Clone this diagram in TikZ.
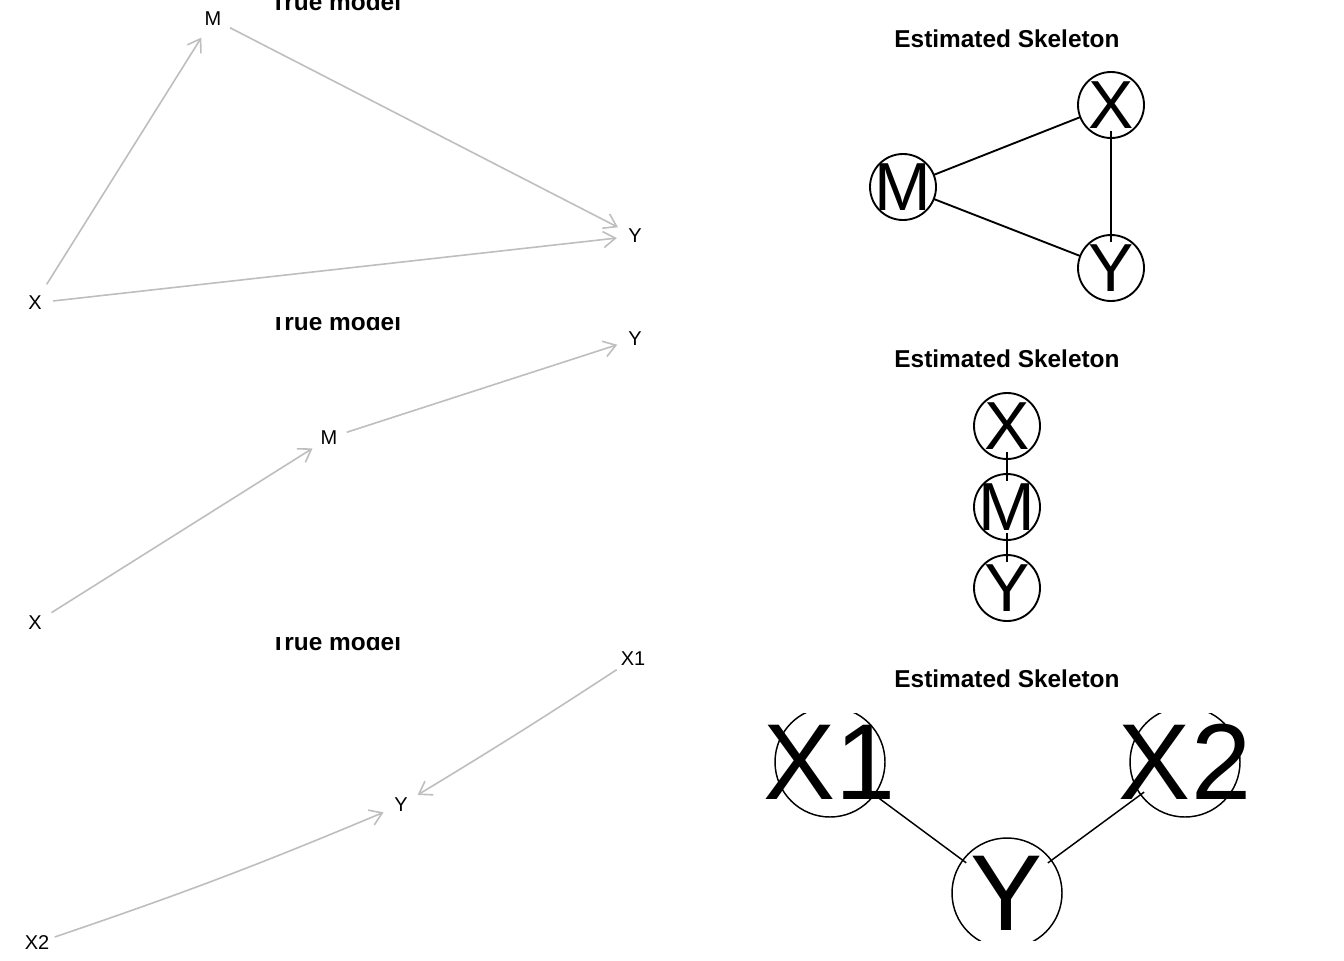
\documentclass[tikz,border=0pt]{standalone}
\usepackage{fontspec}
\setmainfont{Liberation Sans}
\usetikzlibrary{positioning,shapes.geometric,arrows.meta}
\definecolor{edgegray}{RGB}{190,190,190}

\begin{document}
\begin{tikzpicture}[
    x=0.75pt, y=-0.75pt,
    var/.style={ellipse, inner sep=0pt, minimum width=27pt, minimum height=36pt, font=\fontsize{15}{15}\selectfont},
    causal/.style={draw=edgegray, line width=1.2pt, -{Straight Barb[length=9pt,width=12pt]}},
    ttl/.style={anchor=base, font=\bfseries\fontsize{18.3}{18.3}\selectfont},
    skel/.style={circle, draw, line width=1.4pt, inner sep=0pt, minimum size=49.5pt,
        label={[font=\fontsize{51}{51}\selectfont, inner sep=0pt]center:#1}},
    bigskel/.style={circle, draw, line width=1.1pt, inner sep=0pt, minimum size=82.5pt,
        label={[font=\fontsize{81}{81}\selectfont, inner sep=0pt]center:#1}},
    skedge/.style={draw, line width=1.4pt}
]
\useasboundingbox (0,0) rectangle (1344,960);

% true model, first row
\begin{scope}
\clip (0,-2.5) rectangle (672,320);
\node[ttl] (true1) at (336,10) {True model};
\end{scope}
\node[var] (m1) at (213,19) {M};
\node[var] (x1) at (35,303) {X};
\node[var] (y1) at (635,236) {Y};
\draw[causal] (x1) -- (m1);
\draw[causal] (m1) -- (y1);
\draw[causal] (x1) -- (y1);

% true model, second row
\begin{scope}
\clip (0,317.5) rectangle (672,640);
\node[ttl] (true2) at (336,330) {True model};
\end{scope}
\node[var] (y2) at (635,339) {Y};
\node[var] (m2) at (329,438) {M};
\node[var] (x2) at (35,623) {X};
\draw[causal] (x2) -- (m2);
\draw[causal] (m2) -- (y2);

% true model, third row
\begin{scope}
\clip (0,637.5) rectangle (672,960);
\node[ttl] (true3) at (336,650) {True model};
\end{scope}
\node[var] (xa3) at (633,659) {X1};
\node[var] (y3) at (401,805) {Y};
\node[var] (xb3) at (37,943) {X2};
\draw[causal] (xa3) to[bend left=1] (y3);
\draw[causal] (xb3) to[bend right=2] (y3);

% estimated skeletons
\node[ttl] (est1) at (1007,47) {Estimated Skeleton};
\node[skel=X] (sx1) at (1111,105) {};
\node[skel=M] (sm1) at (903,187) {};
\node[skel=Y] (sy1) at (1111,268) {};
\draw[skedge, shorten <=-1pt, shorten >=-1pt] (sm1) -- (sx1);
\draw[skedge, shorten <=-1pt, shorten >=-1pt] (sm1) -- (sy1);
\draw[skedge, shorten <=-5.6pt, shorten >=-5.6pt] (sx1) -- (sy1);

\node[ttl] (est2) at (1007,367) {Estimated Skeleton};
\node[skel=X] (sx2) at (1007,426) {};
\node[skel=M] (sm2) at (1007,507) {};
\node[skel=Y] (sy2) at (1007,588) {};
\draw[skedge, shorten <=-5.6pt, shorten >=-5.6pt] (sx2) -- (sm2);
\draw[skedge, shorten <=-5.6pt, shorten >=-5.6pt] (sm2) -- (sy2);

\node[ttl] (est3) at (1007,687) {Estimated Skeleton};
\begin{scope}
\clip (700,713) rectangle (1344,940);
\node[bigskel=X1] (sa3) at (830,762) {};
\node[bigskel=X2] (sb3) at (1185,762) {};
\node[bigskel=Y] (sy3) at (1007,893) {};
\draw[skedge, line width=1.1pt, shorten <=-3.75pt, shorten >=-3.75pt] (sa3) -- (sy3);
\draw[skedge, line width=1.1pt, shorten <=-3.75pt, shorten >=-3.75pt] (sb3) -- (sy3);
\end{scope}
\end{tikzpicture}
\end{document}
